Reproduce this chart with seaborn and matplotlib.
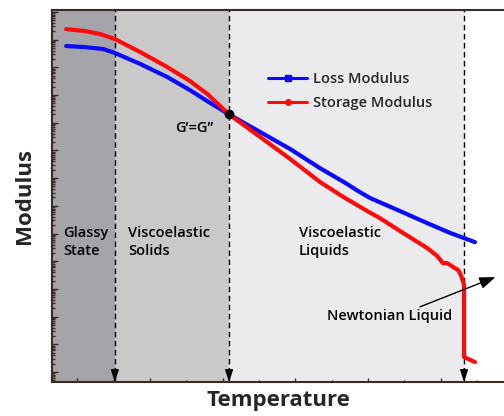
import numpy as np
import pandas as pd
import matplotlib
matplotlib.use("Agg")
import matplotlib.pyplot as plt
import matplotlib.transforms as mtransforms
import seaborn as sns
from matplotlib.lines import Line2D
from matplotlib.ticker import LogLocator, NullFormatter, MultipleLocator

# Temperature (arbitrary units) and log10 of modulus for each curve
loss_temp = [0.85, 1.11, 1.36, 1.52, 1.87, 2.24, 2.55, 2.79, 3.09, 3.52, 3.93,
             4.34, 4.68, 4.86, 5.03, 5.44, 5.81, 6.13, 6.47]
loss_log10 = [11.77, 11.73, 11.66, 11.52, 11.12, 10.65, 10.18, 9.78, 9.30, 8.66,
              8.05, 7.36, 6.84, 6.54, 6.28, 5.81, 5.38, 5.02, 4.69]

storage_temp = [0.85, 1.11, 1.32, 1.52, 1.87, 2.24, 2.55, 2.79, 3.09, 3.52, 3.93,
                4.34, 4.66, 4.99, 5.16, 5.44, 5.81, 5.95, 6.03, 6.09, 6.17, 6.24,
                6.28, 6.32, 6.32, 6.47]
storage_log10 = [12.38, 12.31, 12.20, 12.02, 11.55, 11.01, 10.51, 10.04, 9.30, 8.48,
                 7.69, 6.86, 6.32, 5.81, 5.56, 5.09, 4.48, 4.19, 3.93, 3.93, 3.79,
                 3.68, 3.47, 3.14, 0.54, 0.36]

# Regime boundaries (temperature) and their shading / labels
boundaries = [1.52, 3.09, 6.32]
region_colors = ["#a4a4a9", "#c9c9c9", "#ebebee"]
region_labels = ["Glassy\nState", "Viscoelastic\nSolids", "Viscoelastic\nLiquids"]
region_label_x = [0.024, 0.168, 0.546]
crossover_temp, crossover_log10 = 3.09, 9.30

series_names = ["Loss Modulus", "Storage Modulus"]
series_colors = {"Loss Modulus": "#0a0aff", "Storage Modulus": "#ff0a0a"}

df = pd.concat([
    pd.DataFrame({"Temperature": loss_temp,
                  "Modulus": 10.0 ** np.asarray(loss_log10),
                  "series": series_names[0]}),
    pd.DataFrame({"Temperature": storage_temp,
                  "Modulus": 10.0 ** np.asarray(storage_log10),
                  "series": series_names[1]}),
], ignore_index=True)

sns.set_theme(style="white")
plt.rcParams["font.family"] = ["Open Sans", "DejaVu Sans"]

fig = plt.figure(figsize=(5.04, 4.16), dpi=100)
ax = fig.add_axes([52 / 504, 34 / 416, 452 / 504, 372 / 416])

x_lo, x_hi = 0.656, 6.869
ax.set_xlim(x_lo, x_hi)
ax.set_yscale("log")
ax.set_ylim(10 ** -0.36, 10 ** 13.07)

# shaded regimes
edges = [x_lo] + boundaries
for left, right, c in zip(edges[:-1], edges[1:], region_colors):
    ax.axvspan(left, right, color=c, lw=0, zorder=0)

# dashed boundary lines with arrowheads at the bottom
trans = mtransforms.blended_transform_factory(ax.transData, ax.transAxes)
for b in boundaries:
    ax.axvline(b, color="black", ls=(0, (4, 2.5)), lw=1.0, zorder=1)
    ax.annotate("", xy=(b, 0.0), xytext=(b, 0.035), xycoords=trans,
                textcoords=trans,
                arrowprops=dict(arrowstyle="-|>,head_length=0.6,head_width=0.2",
                                color="black", lw=1.0, shrinkA=0, shrinkB=0),
                zorder=2)

sns.lineplot(data=df, x="Temperature", y="Modulus", hue="series",
             hue_order=series_names, palette=series_colors, estimator=None,
             sort=False, lw=3.0, legend=False, ax=ax, zorder=3)
for line in ax.get_lines():
    line.set_solid_joinstyle("round")

ax.plot(crossover_temp, 10 ** crossover_log10, "o", color="black", ms=6, zorder=5)

text_kw = dict(fontsize=10.5, fontweight="semibold", color="black")
ax.text(2.61, 10 ** 8.81, "G\u2019=G\u2019\u2019", ha="center", va="center", **text_kw)
for lx, lab in zip(region_label_x, region_labels):
    ax.text(lx, 0.376, lab, transform=ax.transAxes, ha="left", va="center",
            linespacing=1.35, **text_kw)
ax.text(0.748, 0.177, "Newtonian Liquid", transform=ax.transAxes,
        ha="center", va="center", **text_kw)
ax.annotate("", xy=(0.981, 0.282), xytext=(0.814, 0.202),
            xycoords="axes fraction", textcoords="axes fraction",
            arrowprops=dict(arrowstyle="-|>,head_length=0.8,head_width=0.3",
                            color="black", lw=1.0, shrinkA=0, shrinkB=0))

handles = [Line2D([], [], color=series_colors[series_names[0]], lw=2.2, marker="s",
                  ms=4, label=series_names[0]),
           Line2D([], [], color=series_colors[series_names[1]], lw=2.2, marker="o",
                  ms=4, label=series_names[1])]
ax.legend(handles=handles, loc="upper left", bbox_to_anchor=(0.478, 0.832),
          frameon=False, borderpad=0, borderaxespad=0, handlelength=2.7,
          handletextpad=0.4, labelspacing=0.65,
          prop=dict(size=10.5, weight="semibold"))

# axes frame and ticks
spine_color = "#3b2b26"
ax.spines["right"].set_visible(False)
for s in ("left", "bottom", "top"):
    ax.spines[s].set_color(spine_color)
    ax.spines[s].set_linewidth(1.5)

ax.yaxis.set_major_locator(LogLocator(base=10, numticks=40))
ax.yaxis.set_minor_locator(LogLocator(base=10, subs=np.arange(2, 10), numticks=40))
ax.yaxis.set_major_formatter(NullFormatter())
ax.yaxis.set_minor_formatter(NullFormatter())
ax.xaxis.set_major_locator(MultipleLocator(1.0))
ax.xaxis.set_minor_locator(MultipleLocator(0.5))
ax.xaxis.set_major_formatter(NullFormatter())
ax.xaxis.set_minor_formatter(NullFormatter())

ax.tick_params(axis="both", which="both", direction="in", color=spine_color,
               width=1.0, left=True, bottom=True, top=False, right=False)
ax.tick_params(axis="y", which="major", length=4)
ax.tick_params(axis="y", which="minor", length=2.2)
ax.tick_params(axis="x", which="major", length=3)
ax.tick_params(axis="x", which="minor", length=1.8)

ax.set_xlabel("Temperature", fontsize=16, fontweight="bold", labelpad=2)
ax.set_ylabel("Modulus", fontsize=16, fontweight="bold", labelpad=9)

fig.savefig("out.png", dpi=100)
